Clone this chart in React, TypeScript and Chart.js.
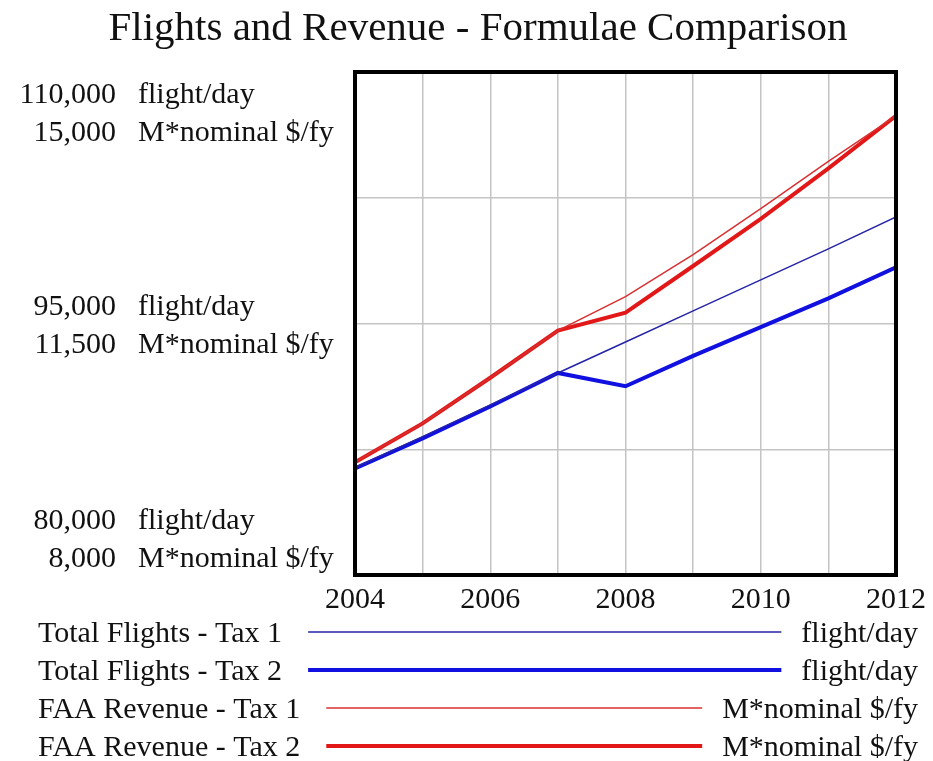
import React, { useEffect, useRef } from "react";
import { Chart, registerables } from "chart.js";

Chart.register(...registerables);

const chartTitle = "Flights and Revenue - Formulae Comparison";
const years = [2004, 2005, 2006, 2007, 2008, 2009, 2010, 2011, 2012];
const flightsTax1 = [86400, 88250, 90150, 92050, 93900, 95750, 97600, 99450, 101350];
const flightsTax2 = [86350, 88150, 90050, 92050, 91260, 93070, 94780, 96500, 98350];
const revenueTax1 = [9570, 10110, 10745, 11400, 11875, 12460, 13100, 13755, 14390];
const revenueTax2 = [9570, 10110, 10745, 11400, 11650, 12300, 12955, 13660, 14390];
const seriesLabels = [
  "Total Flights - Tax 1",
  "Total Flights - Tax 2",
  "FAA Revenue - Tax 1",
  "FAA Revenue - Tax 2",
];
const seriesUnits = ["flight/day", "flight/day", "M*nominal $/fy", "M*nominal $/fy"];
const flightTicks = [110000, 95000, 80000];
const revenueTicks = [15000, 11500, 8000];
const flightUnit = "flight/day";
const revenueUnit = "M*nominal $/fy";
const xLabelYears = [2004, 2006, 2008, 2010, 2012];

const SERIF = "'Liberation Serif', 'Times New Roman', serif";

const toPoints = (vals: number[]) => years.map((y, i) => ({ x: y, y: vals[i] }));

const decorPlugin = {
  id: "decor",
  afterDraw(chart: any) {
    const ctx = chart.ctx as CanvasRenderingContext2D;
    const area = chart.chartArea;
    ctx.save();

    // frame
    ctx.strokeStyle = "#000";
    ctx.lineWidth = 4;
    ctx.strokeRect(area.left, area.top, area.right - area.left, area.bottom - area.top);

    // title
    ctx.fillStyle = "#111";
    ctx.font = `41px ${SERIF}`;
    ctx.textAlign = "center";
    ctx.textBaseline = "alphabetic";
    ctx.fillText(chartTitle, 478, 40);

    // dual y-axis labels
    const yF = chart.scales.yFlights;
    const yR = chart.scales.yRevenue;
    ctx.font = `30px ${SERIF}`;
    for (let i = 0; i < flightTicks.length; i++) {
      const p = (yF.getPixelForValue(flightTicks[i]) + yR.getPixelForValue(revenueTicks[i])) / 2;
      const c = Math.max(area.top + 40, Math.min(area.bottom - 37, p));
      const b1 = c - 9;
      const b2 = c + 29;
      ctx.textAlign = "right";
      ctx.fillText(flightTicks[i].toLocaleString("en-US"), 116, b1);
      ctx.fillText(revenueTicks[i].toLocaleString("en-US"), 116, b2);
      ctx.textAlign = "left";
      ctx.fillText(flightUnit, 138, b1);
      ctx.fillText(revenueUnit, 138, b2);
    }

    // legend
    const baselines = [642, 680, 718, 756];
    chart.data.datasets.forEach((ds: any, i: number) => {
      const b = baselines[i];
      ctx.font = `30px ${SERIF}`;
      ctx.fillStyle = "#111";
      ctx.textAlign = "left";
      ctx.fillText(seriesLabels[i], 38, b);
      const labelEnd = 38 + ctx.measureText(seriesLabels[i]).width;
      ctx.textAlign = "right";
      ctx.fillText(seriesUnits[i], 918, b);
      const unitStart = 918 - ctx.measureText(seriesUnits[i]).width;
      ctx.strokeStyle = ds.borderColor;
      ctx.lineWidth = ds.borderWidth;
      ctx.beginPath();
      ctx.moveTo(labelEnd + 26, b - 10);
      ctx.lineTo(unitStart - 20, b - 10);
      ctx.stroke();
    });

    ctx.restore();
  },
};

export default function App() {
  const canvasRef = useRef<HTMLCanvasElement | null>(null);

  useEffect(() => {
    const canvas = canvasRef.current;
    if (!canvas) return;
    const chart = new Chart(canvas, {
      type: "line",
      data: {
        datasets: [
          {
            label: seriesLabels[0],
            data: toPoints(flightsTax1),
            yAxisID: "yFlights",
            borderColor: "#2424a8",
            borderWidth: 1.5,
            pointRadius: 0,
            tension: 0,
          },
          {
            label: seriesLabels[1],
            data: toPoints(flightsTax2),
            yAxisID: "yFlights",
            borderColor: "#1010e0",
            borderWidth: 4,
            pointRadius: 0,
            tension: 0,
          },
          {
            label: seriesLabels[2],
            data: toPoints(revenueTax1),
            yAxisID: "yRevenue",
            borderColor: "#d83030",
            borderWidth: 1.5,
            pointRadius: 0,
            tension: 0,
          },
          {
            label: seriesLabels[3],
            data: toPoints(revenueTax2),
            yAxisID: "yRevenue",
            borderColor: "#e21818",
            borderWidth: 4,
            pointRadius: 0,
            tension: 0,
          },
        ],
      },
      options: {
        responsive: false,
        animation: false,
        layout: { padding: { left: 0, top: 72, right: 35, bottom: 0 } },
        plugins: {
          legend: { display: false },
          title: { display: false },
          tooltip: { enabled: false },
        },
        scales: {
          x: {
            type: "linear",
            min: years[0],
            max: years[years.length - 1],
            border: { display: false },
            grid: { color: "#c4c4c4", lineWidth: 1.5, drawTicks: false },
            ticks: {
              stepSize: 1,
              autoSkip: false,
              maxRotation: 0,
              padding: 7,
              color: "#111",
              font: { family: SERIF, size: 30 },
              callback: (v: any) => (xLabelYears.includes(Number(v)) ? String(v) : ""),
            },
            afterFit: (scale: any) => {
              scale.height = 186;
            },
          },
          yFlights: {
            type: "linear",
            position: "left",
            min: 80000,
            max: 110000,
            border: { display: false },
            grid: { color: "#c4c4c4", lineWidth: 1.5, drawTicks: false },
            ticks: { stepSize: 7500, display: false },
            afterFit: (scale: any) => {
              scale.width = 355;
            },
          },
          yRevenue: {
            type: "linear",
            position: "left",
            display: false,
            min: 8000,
            max: 15000,
          },
        },
      },
      plugins: [decorPlugin],
    });
    return () => chart.destroy();
  }, []);

  return (
    <div style={{ position: "fixed", left: 0, top: 0, width: 933, height: 761, background: "#fff" }}>
      <canvas ref={canvasRef} width={933} height={761} style={{ width: 933, height: 761, display: "block" }} />
    </div>
  );
}
